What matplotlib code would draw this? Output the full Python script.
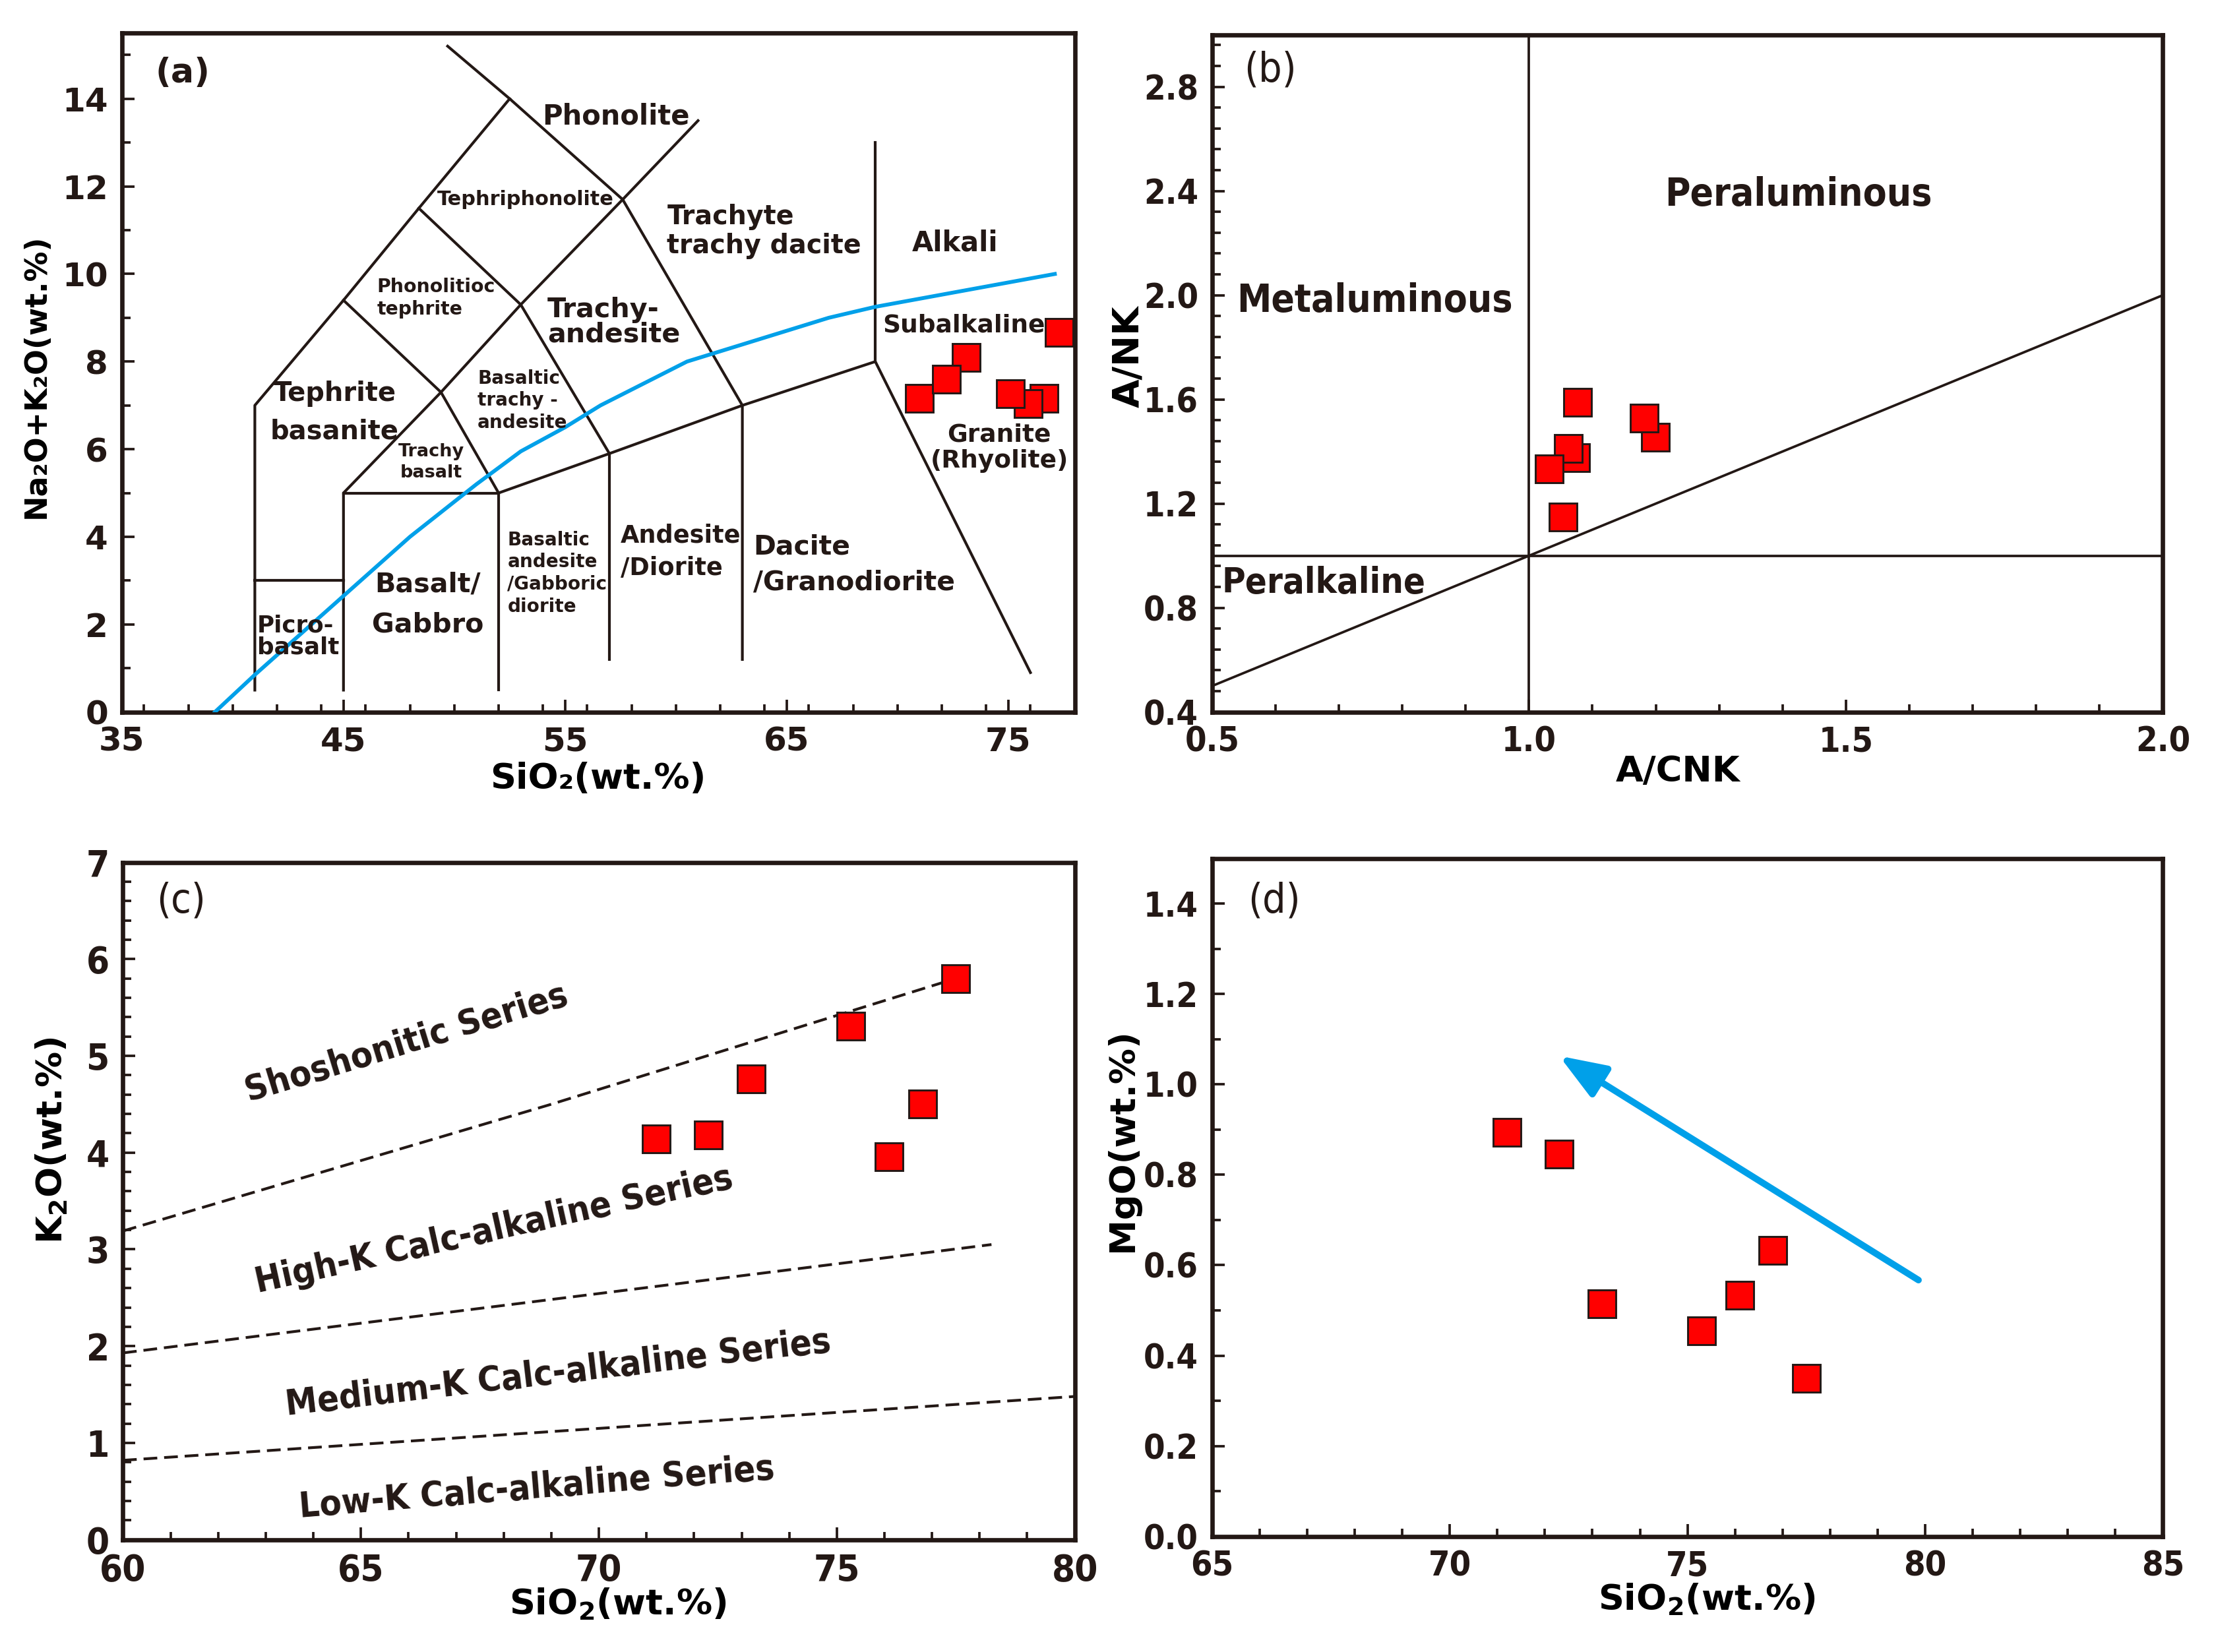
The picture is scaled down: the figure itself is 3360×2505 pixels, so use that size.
import os
import matplotlib
matplotlib.use("Agg")
import matplotlib.pyplot as plt
from matplotlib import font_manager as fm
from matplotlib.ticker import MultipleLocator

# ---- data -------------------------------------------------------------
# (a) TAS
tas_sio2 = [71.0, 73.1, 72.2, 76.6, 75.9, 75.1, 77.3]
tas_alk = [7.16, 8.10, 7.60, 7.16, 7.04, 7.27, 8.66]
tas_lines = [
    [(41, 0.5), (41, 7), (45, 9.4), (48.4, 11.5), (52.5, 14), (57.6, 11.7), (61, 13.5)],
    [(49.7, 15.2), (52.5, 14)],
    [(41, 3), (45, 3)],
    [(45, 0.5), (45, 5), (49.4, 7.3), (53, 9.3), (57.6, 11.7)],
    [(45, 9.4), (49.4, 7.3), (52, 5), (57, 5.9), (63, 7), (69, 8), (76, 0.9)],
    [(45, 5), (52, 5)],
    [(52, 0.5), (52, 5)],
    [(48.4, 11.5), (53, 9.3), (57, 5.9), (57, 1.2)],
    [(57.6, 11.7), (63, 7), (63, 1.2)],
    [(69, 8), (69, 13)],
]
divide_x = [39.2, 41, 45, 48, 51, 53, 55, 56.6, 60.5, 66.9, 69, 77.1]
divide_y = [0, 0.85, 2.65, 4.0, 5.2, 5.95, 6.5, 7.0, 8.0, 9.0, 9.25, 10.0]
# label, x, y, size, ha, linespacing
tas_labels = [
    ("Phonolite", 57.3, 13.6, 10, "center", 1.0),
    ("Tephriphonolite", 53.2, 11.7, 7.3, "center", 1.0),
    ("Trachyte\ntrachy dacite", 59.6, 10.97, 9.5, "left", 1.13),
    ("Alkali", 72.6, 10.7, 10, "center", 1.0),
    ("Subalkaline", 73.0, 8.83, 9, "center", 1.0),
    ("Granite\n(Rhyolite)", 74.6, 6.03, 9, "center", 1.13),
    ("Dacite\n/Granodiorite", 63.5, 3.36, 9.8, "left", 1.43),
    ("Andesite\n/Diorite", 57.5, 3.66, 8.8, "left", 1.43),
    ("Trachy-\nandesite", 54.2, 8.9, 9.9, "left", 0.93),
    ("Phonolitioc\ntephrite", 46.5, 9.45, 6.8, "left", 1.26),
    ("Tephrite\nbasanite", 44.6, 6.83, 9.6, "center", 1.57),
    ("Trachy\nbasalt", 48.95, 5.70, 6.5, "center", 1.33),
    ("Basaltic\ntrachy -\nandesite", 51.05, 7.11, 6.7, "left", 1.26),
    ("Basalt/\nGabbro", 48.8, 2.45, 9.9, "center", 1.66),
    ("Picro-\nbasalt", 41.1, 1.73, 8.6, "left", 0.95),
    ("Basaltic\nandesite\n/Gabboric\ndiorite", 52.4, 3.17, 6.7, "left", 1.26),
]

# (b) A/NK vs A/CNK
acnk = [1.199, 1.182, 1.077, 1.073, 1.062, 1.032, 1.054]
ank = [1.456, 1.529, 1.588, 1.377, 1.411, 1.332, 1.149]

# (c), (d) Harker-type plots
sio2 = [71.2, 72.3, 73.2, 75.3, 76.1, 76.8, 77.5]
k2o = [4.14, 4.18, 4.76, 5.31, 3.96, 4.50, 5.80]
mgo = [0.894, 0.846, 0.515, 0.454, 0.534, 0.632, 0.349]
series_lines = [
    ([60, 69, 77.5], [3.19, 4.50, 5.80]),
    ([60, 78.25], [1.93, 3.05]),
    ([60, 80], [0.82, 1.48]),
]
series_labels = [
    ("Shoshonitic Series", 65.95, 5.13, 17.0),
    ("High-K Calc-alkaline Series", 67.8, 3.20, 12.5),
    ("Medium-K Calc-alkaline Series", 69.15, 1.72, 6.7),
    ("Low-K Calc-alkaline Series", 68.7, 0.53, 4.7),
]
trend_start = (79.86, 0.567)
trend_end = (72.3, 1.063)

# ---- style ------------------------------------------------------------
INK = "#231815"
RED = "#ff0000"
BLUE = "#00a0e9"

files = {os.path.basename(f.fname): f.fname for f in fm.fontManager.ttflist}


def font(cands, size, weight="bold"):
    for c in cands:
        if c in files:
            return fm.FontProperties(fname=files[c], size=size)
    return fm.FontProperties(family="DejaVu Sans", weight=weight, size=size)


COND_B = ["DejaVuSansCondensed-Bold.ttf", "LiberationSansNarrow-Bold.ttf"]
COND_R = ["DejaVuSansCondensed.ttf", "LiberationSansNarrow-Regular.ttf"]

plt.rcParams["font.family"] = "DejaVu Sans"
plt.rcParams["mathtext.default"] = "bf"
plt.rcParams["text.color"] = INK


def style_axes(ax, tickfont):
    for s in ax.spines.values():
        s.set_linewidth(1.6)
        s.set_color(INK)
    ax.tick_params(which="both", direction="in", top=False, right=False,
                   color=INK, width=0.9, pad=5)
    ax.tick_params(which="major", length=4.5)
    ax.tick_params(which="minor", length=3)
    for lab in ax.get_xticklabels() + ax.get_yticklabels():
        lab.set_fontproperties(tickfont)
        lab.set_color(INK)


def place_labels(ax, xl, yl):
    # centre of each axis title, in axes fraction
    ax.xaxis.label.set_va("center")
    ax.yaxis.label.set_va("center")
    ax.xaxis.set_label_coords(*xl)
    ax.yaxis.set_label_coords(*yl)


def squares(ax, x, y):
    ax.plot(x, y, "s", ms=10, mfc=RED, mec=INK, mew=0.7, ls="none", zorder=5)


fig = plt.figure(figsize=(11.2, 8.35), dpi=300)
ax_a = fig.add_axes([0.055, 0.569, 0.430, 0.411])
ax_b = fig.add_axes([0.547, 0.569, 0.429, 0.410])
ax_c = fig.add_axes([0.0555, 0.068, 0.4295, 0.410])
ax_d = fig.add_axes([0.547, 0.070, 0.429, 0.4104])

# ---- (a) TAS ----------------------------------------------------------
ax = ax_a
for seg in tas_lines:
    xs, ys = zip(*seg)
    ax.plot(xs, ys, color=INK, lw=1.0, zorder=2)
ax.plot(divide_x, divide_y, color=BLUE, lw=1.4, zorder=3)
squares(ax, tas_sio2, tas_alk)
for txt, x, y, size, ha, lsp in tas_labels:
    ax.text(x, y, txt, fontsize=size, fontweight="bold", ha=ha, va="center",
            linespacing=lsp, color=INK, zorder=4)
ax.text(36.5, 14.58, "(a)", fontsize=12.5, fontweight="bold", va="center")
ax.set_xlim(35, 78)
ax.set_ylim(0, 15.5)
ax.set_xticks([35, 45, 55, 65, 75])
ax.xaxis.set_minor_locator(MultipleLocator(2))
ax.set_yticks(range(0, 15, 2))
ax.yaxis.set_minor_locator(MultipleLocator(1))
ax.set_xlabel("SiO\u2082(wt.%)", fontsize=13, fontweight="bold")
ax.set_ylabel("Na\u2082O+K\u2082O(wt.%)", fontsize=11, fontweight="bold")
place_labels(ax, (0.5, -0.098), (-0.09, 0.495))
style_axes(ax, fm.FontProperties(family="DejaVu Sans", weight="bold", size=12))

# ---- (b) A/NK - A/CNK -------------------------------------------------
ax = ax_b
ax.axvline(1.0, color=INK, lw=0.9, zorder=2)
ax.axhline(1.0, color=INK, lw=0.9, zorder=2)
ax.plot([0.5, 2.0], [0.5, 2.0], color=INK, lw=0.9, zorder=2)
squares(ax, acnk, ank)
ax.text(1.425, 2.386, "Peraluminous", fontproperties=font(COND_B, 14), ha="center", va="center")
ax.text(0.757, 1.978, "Metaluminous", fontproperties=font(COND_B, 14), ha="center", va="center")
ax.text(0.676, 0.895, "Peralkaline", fontproperties=font(COND_B, 13), ha="center", va="center")
ax.text(0.55, 2.864, "(b)", fontproperties=font(COND_R, 15), va="center")
ax.set_xlim(0.5, 2.0)
ax.set_ylim(0.4, 3.0)
ax.set_xticks([0.5, 1.0, 1.5, 2.0])
ax.set_xticklabels(["0.5", "1.0", "1.5", "2.0"])
ax.xaxis.set_minor_locator(MultipleLocator(0.1))
ax.set_yticks([0.4, 0.8, 1.2, 1.6, 2.0, 2.4, 2.8])
ax.set_yticklabels(["0.4", "0.8", "1.2", "1.6", "2.0", "2.4", "2.8"])
ax.yaxis.set_minor_locator(MultipleLocator(0.08))
ax.set_xlabel("A/CNK", fontsize=13, fontweight="bold")
ax.set_ylabel("A/NK", fontsize=13.5, fontweight="bold")
place_labels(ax, (0.49, -0.088), (-0.088, 0.525))
style_axes(ax, font(COND_B, 12.5))

# ---- (c) K2O - SiO2 ---------------------------------------------------
ax = ax_c
for xs, ys in series_lines:
    ax.plot(xs, ys, color=INK, lw=1.0, ls=(0, (5, 2.5)), zorder=2)
squares(ax, sio2, k2o)
for txt, x, y, rot in series_labels:
    ax.text(x, y, txt, fontproperties=font(COND_B, 13), rotation=rot,
            rotation_mode="anchor", ha="center", va="center")
ax.text(60.7, 6.6, "(c)", fontproperties=font(COND_R, 15), va="center")
ax.set_xlim(60, 80)
ax.set_ylim(0, 7)
ax.set_xticks([60, 65, 70, 75, 80])
ax.xaxis.set_minor_locator(MultipleLocator(1))
ax.set_yticks(range(0, 8))
ax.yaxis.set_minor_locator(MultipleLocator(0.2))
ax.set_xlabel("SiO$_2$(wt.%)", fontsize=13, fontweight="bold")
ax.set_ylabel("K$_2$O(wt.%)", fontsize=13, fontweight="bold")
place_labels(ax, (0.52, -0.095), (-0.075, 0.59))
style_axes(ax, font(COND_B, 13.5))

# ---- (d) MgO - SiO2 ---------------------------------------------------
ax = ax_d
squares(ax, sio2, mgo)
ax.annotate("", xy=trend_end, xytext=trend_start,
            arrowprops=dict(arrowstyle="-|>,head_length=0.95,head_width=0.36",
                            color=BLUE, lw=2.4, mutation_scale=15,
                            shrinkA=0, shrinkB=0))
ax.text(65.75, 1.405, "(d)", fontproperties=font(COND_R, 15), va="center")
ax.set_xlim(65, 85)
ax.set_ylim(0, 1.5)
ax.set_xticks([65, 70, 75, 80, 85])
ax.xaxis.set_minor_locator(MultipleLocator(1))
ax.set_yticks([0.0, 0.2, 0.4, 0.6, 0.8, 1.0, 1.2, 1.4])
ax.set_yticklabels(["0.0", "0.2", "0.4", "0.6", "0.8", "1.0", "1.2", "1.4"])
ax.yaxis.set_minor_locator(MultipleLocator(0.1))
ax.set_xlabel("SiO$_2$(wt.%)", fontsize=13, fontweight="bold")
ax.set_ylabel("MgO(wt.%)", fontsize=13, fontweight="bold")
place_labels(ax, (0.52, -0.093), (-0.094, 0.585))
style_axes(ax, font(COND_B, 12.5))

fig.savefig("out.png", dpi=300)
plt.close(fig)
